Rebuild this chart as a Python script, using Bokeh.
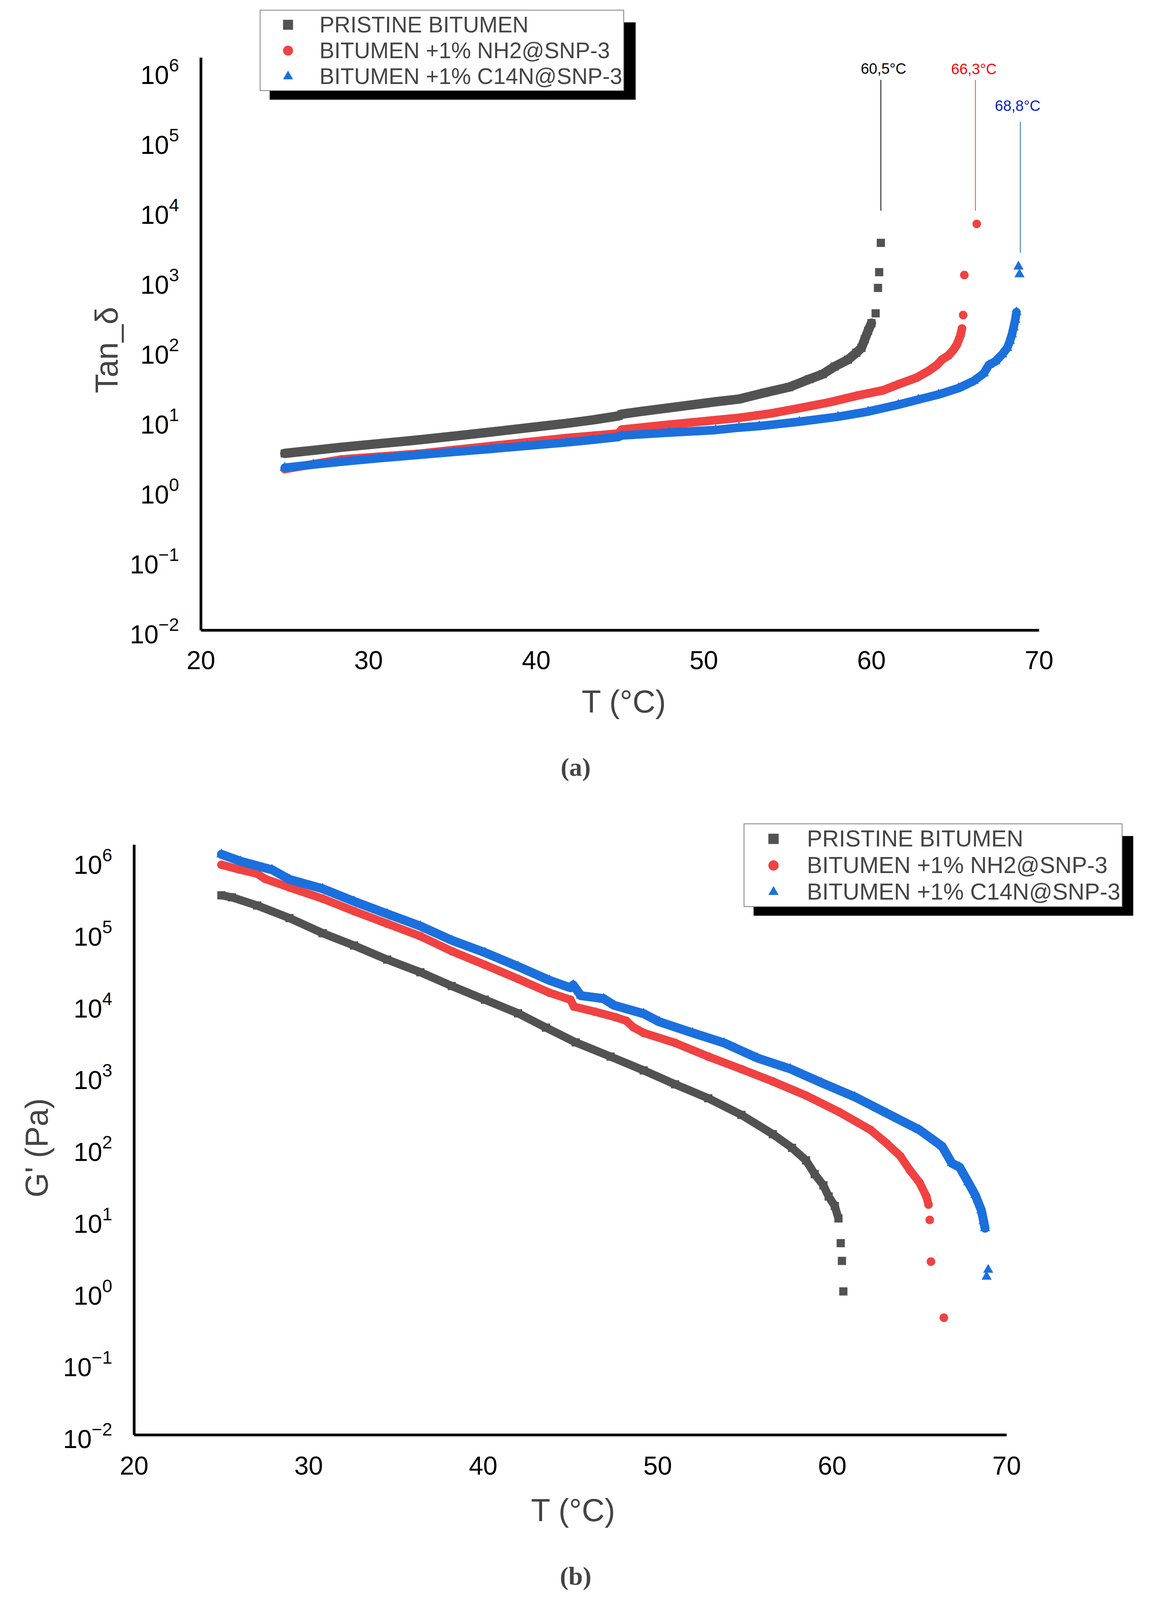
import numpy as np

from bokeh.plotting import figure
from bokeh.models import Legend, LegendItem, BoxAnnotation, Title, FixedTicker
from bokeh.core.properties import value
from bokeh.embed import file_html
from bokeh.resources import INLINE

############ DATA #############

series_names = ["PRISTINE BITUMEN", "BITUMEN +1% NH2@SNP-3", "BITUMEN +1% C14N@SNP-3"]

# (a) Tan delta vs T, dense part of each curve + the separate points near the end
tan_pristine_t = [25.0, 26.7, 28.4, 30.6, 32.9, 35.1, 37.3, 39.5, 41.8, 43.4, 44.9, 45.1, 46.2, 48.5,
                  50.7, 52.1, 53.6, 55.1, 56.3, 57.1, 57.8, 58.6, 59.1, 59.4, 59.6, 59.8, 60.0]
tan_pristine = [3.38, 3.74, 4.14, 4.65, 5.25, 5.98, 6.83, 7.85, 9.08, 10.2, 11.6, 12.3, 13.4, 15.8,
                18.5, 20.2, 24.8, 30.0, 39.0, 46.0, 59.0, 74.0, 93.0, 109.0, 145.0, 191.0, 246.0]
tan_pristine_tail_t = [60.25, 60.39, 60.46, 60.56]
tan_pristine_tail = [340.0, 785.0, 1320.0, 3460.0]

tan_nh2_t = [25.0, 26.7, 28.4, 30.6, 32.9, 35.1, 37.3, 39.5, 41.8, 43.4, 44.9, 45.1, 47.9, 50.7, 52.1,
             54.0, 55.7, 57.5, 59.2, 60.7, 61.6, 62.7, 63.4, 63.9, 64.2, 64.6, 64.9, 65.1, 65.3, 65.4]
tan_nh2 = [2.02, 2.37, 2.77, 3.03, 3.32, 3.78, 4.3, 4.9, 5.6, 6.05, 6.5, 7.4, 8.7, 10.1, 10.9,
           12.6, 15.0, 18.2, 22.8, 27.0, 32.8, 41.0, 51.0, 62.0, 74.0, 85.0, 103.0, 122.0, 162.0, 206.0]
tan_nh2_tail_t = [65.47, 65.54, 66.28]
tan_nh2_tail = [321.0, 1200.0, 6460.0]

tan_c14n_t = [25.0, 26.7, 28.4, 30.6, 32.9, 35.1, 37.3, 39.5, 41.8, 43.4, 44.9, 45.1, 47.9, 50.7, 52.1,
              53.3, 55.7, 58.0, 59.8, 61.6, 62.8, 64.0, 65.2, 66.1, 66.7, 67.0, 67.4, 67.8, 68.1,
              68.26, 68.38, 68.48, 68.58, 68.65]
tan_c14n = [2.11, 2.34, 2.58, 2.88, 3.21, 3.55, 3.92, 4.35, 4.85, 5.3, 5.8, 6.1, 6.7, 7.29, 7.9,
            8.3, 9.6, 11.3, 13.4, 16.8, 19.9, 23.5, 29.0, 36.7, 47.0, 62.0, 70.0, 88.0, 109.0,
            137.0, 170.0, 214.0, 275.0, 353.0]
tan_c14n_tail_t = [68.77, 68.83]
tan_c14n_tail = [1586.0, 1230.0]

# softening marks on (a)
mark_labels = ["60,5°C", "66,3°C", "68,8°C"]
mark_t = [60.56, 66.2, 68.88]
mark_text_t = [60.72, 66.11, 68.72]
mark_text_y = [1.07e6, 1.05e6, 3.16e5]
mark_top = [7.4e5, 7.4e5, 1.86e5]
mark_bottom = [1.0e4, 1.0e4, 2.5e3]

# (b) G' vs T
g_pristine_t = [25.0, 25.6, 27.05, 28.9, 30.8, 32.6, 34.5, 36.4, 38.2, 40.1, 42.0, 43.6, 45.3, 47.3,
                49.2, 51.0, 52.9, 54.8, 56.6, 57.7, 58.5, 59.0, 59.5, 59.8, 60.15, 60.36]
g_pristine = [3.3e5, 3.1e5, 2.38e5, 1.59e5, 9.8e4, 6.6e4, 4.2e4, 2.8e4, 1.8e4, 1.16e4, 7.5e3, 4.74e3,
              2.95e3, 1.87e3, 1.2e3, 768.0, 491.0, 288.0, 155.0, 100.0, 67.0, 43.0, 30.0, 21.0, 15.5, 10.4]
g_pristine_tail_t = [60.49, 60.56, 60.64]
g_pristine_tail = [4.7, 2.66, 1.0]

g_nh2_t = [25.0, 26.0, 27.05, 27.5, 28.9, 30.8, 32.6, 34.5, 36.4, 38.2, 40.1, 42.0, 43.8, 45.0, 45.2,
           46.4, 47.6, 48.2, 48.6, 49.2, 51.0, 52.9, 54.8, 56.6, 58.5, 60.4, 62.2, 63.15, 63.9, 64.45,
           65.0, 65.4, 65.52]
g_nh2 = [8.8e5, 7.6e5, 6.6e5, 5.6e5, 4.25e5, 2.97e5, 1.99e5, 1.33e5, 8.9e4, 5.5e4, 3.55e4, 2.26e4,
         1.45e4, 1.16e4, 9.3e3, 7.9e3, 6.6e3, 5.9e3, 4.8e3, 4.0e3, 2.9e3, 1.87e3, 1.25e3, 842.0, 537.0,
         316.0, 178.0, 114.0, 77.0, 49.0, 33.0, 21.0, 16.2]
g_nh2_tail_t = [65.59, 65.66, 66.4]
g_nh2_tail = [9.9, 2.6, 0.43]

g_c14n_t = [25.0, 26.1, 27.9, 28.9, 30.8, 32.6, 34.5, 36.4, 38.2, 40.1, 42.0, 43.8, 45.0, 45.16, 45.6,
            46.9, 47.5, 49.2, 50.1, 52.0, 53.8, 55.7, 57.6, 59.4, 61.3, 63.15, 65.0, 66.3, 66.86,
            67.3, 67.8, 68.2, 68.55, 68.68, 68.76]
g_c14n = [1.23e6, 9.85e5, 7.5e5, 5.5e5, 4.08e5, 2.72e5, 1.82e5, 1.23e5, 7.8e4, 5.26e4, 3.37e4, 2.16e4,
          1.7e4, 1.86e4, 1.32e4, 1.2e4, 9.7e3, 7.4e3, 5.7e3, 4.0e3, 2.9e3, 1.79e3, 1.26e3, 806.0,
          513.0, 302.0, 178.0, 105.0, 61.0, 54.0, 33.0, 22.0, 13.5, 9.5, 7.6]
g_c14n_tail_t = [68.85, 68.94]
g_c14n_tail = [1.6, 2.0]

x_ticks = [20, 30, 40, 50, 60, 70]
y_ticks = [10.0 ** k for k in range(-2, 7)]

############ STYLE / LAYOUT #############

# the page is photographed about 4096 px high, so the vertical layout is squeezed to fit
VS = 4096 / 4804
COLORS = ["#525252", "#f04242", "#1b70dd"]
MARKERS = ["square", "circle", "triangle"]
SIZES = [21, 22, 26]
FONT = "Liberation Sans"
PAGE_W = 2972


def make_panel(cfg):
    fig_top = cfg["fig_top"]
    frame_top = cfg["frame_top"] * VS
    y0 = cfg["y0"] * VS
    frame_w = cfg["frame_right"] - cfg["x0"]
    frame_h = round(y0 - frame_top)
    top = round(frame_top - fig_top)
    bottom = cfg["fig_h"] - top - frame_h
    left = cfg["x0"] - 8
    right = PAGE_W - left - frame_w
    px_dec = cfg["px_per_dec"] * VS
    cfg.update(frame_h=frame_h, px_dec=px_dec, y0s=y0)

    x_end = 20 + frame_w / cfg["px_per_deg"]
    y_top = 10 ** (-2 + frame_h / px_dec)
    p = figure(y_axis_type="log", x_range=(20, x_end), y_range=(1e-2, y_top),
               frame_width=frame_w, frame_height=frame_h,
               min_border_left=left, min_border_right=right,
               min_border_top=top, min_border_bottom=bottom,
               output_backend="svg", toolbar_location=None, tools="")
    p.outline_line_color = None
    p.xgrid.visible = False
    p.ygrid.visible = False

    p.xaxis.ticker = FixedTicker(ticks=x_ticks)
    p.yaxis.ticker = FixedTicker(ticks=y_ticks)
    p.xaxis.bounds = (20, 70)
    p.yaxis.bounds = (1e-2, 10 ** cfg["axis_top"])
    for ax in (p.xaxis, p.yaxis):
        ax.axis_line_width = 7
        ax.axis_line_color = "black"
        ax.major_tick_line_color = None
        ax.minor_tick_line_color = None
        ax.major_label_text_font = FONT
        ax.major_label_text_font_size = "66px"
        ax.major_label_text_color = "black"
    p.xaxis.major_label_standoff = cfg["xlab_standoff"]
    p.yaxis.major_label_standoff = 50

    p.add_layout(Title(text=cfg["ylabel"], align="left", text_font=FONT, text_font_size="81px",
                       text_font_style="normal", offset=cfg["ylabel_offset"],
                       standoff=cfg["ylabel_standoff"]), "left")
    p.add_layout(Title(text="T (°C)", align="left", text_font=FONT, text_font_size="81px",
                       text_font_style="normal", offset=cfg["xlabel_offset"],
                       standoff=cfg["xlabel_standoff"]), "below")
    p.add_layout(Title(text=cfg["caption"], align="left", text_font="Liberation Serif",
                       text_font_size="66px", text_font_style="bold", offset=cfg["cap_offset"],
                       standoff=cfg["cap_standoff"]), "below")
    return p


def to_data(cfg, sx, sy):
    # page pixel (already squeezed in y) -> data coordinates of a panel
    x = 20 + (sx - cfg["x0"]) / cfg["px_per_deg"]
    y = 10 ** (-2 + (cfg["y0s"] - sy) / cfg["px_dec"])
    return x, y


def draw_series(p, dense_t, dense_v, tail_t, tail_v, i, lw):
    p.line(dense_t, dense_v, color=COLORS[i], line_width=lw, line_join="round", line_cap="round")
    return p.scatter(list(dense_t) + list(tail_t), list(dense_v) + list(tail_v), marker=MARKERS[i],
                     size=SIZES[i], color=COLORS[i], line_color=None)


def add_legend(p, cfg, renderers):
    lx, ly, rx = cfg["legend_box"]
    pad = 3
    row = cfg["legend_row"]
    top = ly * VS
    bottom = top + 3 * row + 2 * pad
    # black drop shadow, offset down-right
    sx0, sy0 = to_data(cfg, lx + 25, bottom + 22)
    sx1, sy1 = to_data(cfg, rx + 25, top + 22)
    p.add_layout(BoxAnnotation(left=sx0, right=sx1, bottom=sy0, top=sy1, fill_color="black",
                               fill_alpha=1.0, line_color=None))
    gw = 2 * (cfg["marker_x"] - lx - pad)
    legend = Legend(items=[LegendItem(label=n, renderers=[r]) for n, r in zip(series_names, renderers)],
                    location=(lx - cfg["x0"], round(cfg["y0s"] - bottom)), orientation="vertical",
                    label_text_font=FONT, label_text_font_size=cfg["legend_font"],
                    glyph_width=gw, glyph_height=row, label_height=row,
                    label_standoff=cfg["text_x"] - lx - pad - gw, padding=pad, spacing=0, margin=0,
                    border_line_color="black", border_line_width=2,
                    background_fill_color="white", background_fill_alpha=1.0)
    p.add_layout(legend, "center")


############ (a) TAN DELTA #############

cfg_a = dict(fig_top=8, fig_h=2045, x0=522, frame_right=2700, px_per_deg=42.92,
             y0=1901, px_per_dec=210.0, frame_top=35, axis_top=6.19, xlab_standoff=47,
             ylabel="Tan_δ", ylabel_offset=607, ylabel_standoff=23,
             xlabel_offset=975, xlabel_standoff=67, caption="(a)", cap_offset=921, cap_standoff=100,
             legend_box=(673, 50, 1610), marker_x=743, text_x=824, legend_font="57px", legend_row=64)

pa = make_panel(cfg_a)
ra = [draw_series(pa, tan_pristine_t, tan_pristine, tan_pristine_tail_t, tan_pristine_tail, 0, 24),
      draw_series(pa, tan_nh2_t, tan_nh2, tan_nh2_tail_t, tan_nh2_tail, 1, 22),
      draw_series(pa, tan_c14n_t, tan_c14n, tan_c14n_tail_t, tan_c14n_tail, 2, 22)]

pa.segment(x0=mark_t, y0=mark_bottom, x1=mark_t, y1=mark_top,
           color=["#000000", "#f04040", "#1a6db0"], line_width=2)
pa.text(x=mark_text_t, y=mark_text_y, text=mark_labels, text_color=["#000000", "#ff0000", "#0a1fc8"],
        text_font=value(FONT), text_font_size="38px", text_align="center", text_baseline="middle")
add_legend(pa, cfg_a, ra)

############ (b) G' #############

cfg_b = dict(fig_top=2053, fig_h=2035, x0=351, frame_right=2930, px_per_deg=44.68,
             y0=4313, px_per_dec=215.5, frame_top=2470, axis_top=6.223, xlab_standoff=49,
             ylabel="G' (Pa)", ylabel_offset=608, ylabel_standoff=40,
             xlabel_offset=1016, xlabel_standoff=83, caption="(b)", cap_offset=1090, cap_standoff=86,
             legend_box=(1912, 2489, 2884), marker_x=1986, text_x=2072, legend_font="59px", legend_row=66)

pb = make_panel(cfg_b)
rb = [draw_series(pb, g_pristine_t, g_pristine, g_pristine_tail_t, g_pristine_tail, 0, 21),
      draw_series(pb, g_nh2_t, g_nh2, g_nh2_tail_t, g_nh2_tail, 1, 21),
      draw_series(pb, g_c14n_t, g_c14n, g_c14n_tail_t, g_c14n_tail, 2, 23)]
add_legend(pb, cfg_b, rb)

# two separate roots, stacked by the page, so their frames are laid out independently
open("out.html", "w").write(file_html([pa, pb], INLINE))
